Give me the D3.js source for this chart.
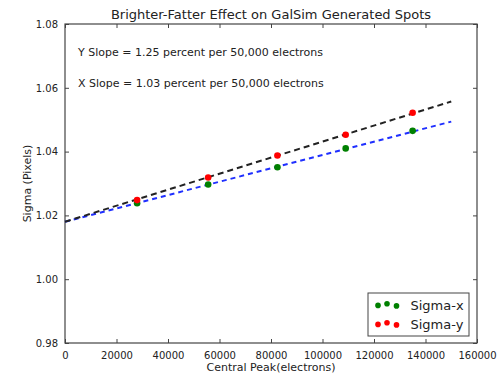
<!DOCTYPE html>
<html>
<head>
<meta charset="utf-8">
<script src="https://cdn.jsdelivr.net/npm/d3@7"></script>
<style>
    body { margin: 0; background: #fff; }
    text { font-family: "DejaVu Sans", sans-serif; fill: #222; }
</style>
</head>
<body>
<div id="chart"></div>
<script>
var peakX = [28000, 55600, 82500, 109000, 135000];
var sigmaX = [1.0238, 1.0297, 1.0351, 1.0410, 1.0465];
var sigmaY = [1.0248, 1.0319, 1.0388, 1.0453, 1.0522];

var fitPeak = [0, 150000];
var fitSigmaX = [1.0180, 1.0494];
var fitSigmaY = [1.0180, 1.0557];

var xTicks = [0, 20000, 40000, 60000, 80000, 100000, 120000, 140000, 160000];
var yTicks = [0.98, 1.00, 1.02, 1.04, 1.06, 1.08];

var slopeLabels = ["Y Slope = 1.25 percent per 50,000 electrons",
    "X Slope = 1.03 percent per 50,000 electrons"];
var seriesNames = ["Sigma-x", "Sigma-y"];
var seriesColors = ["#008000", "#ff0000"];

var margin = { top: 24, right: 22, bottom: 33, left: 65 },
    width = 499 - margin.left - margin.right,
    height = 376 - margin.top - margin.bottom;

var svg = d3.select("#chart")
    .append("svg")
    .attr("width", 499)
    .attr("height", 376)
    .append("g")
    .attr("transform",
        "translate(" + margin.left + "," + margin.top + ")");

var x = d3.scaleLinear()
    .domain([0, 160000])
    .range([0, width]);

var y = d3.scaleLinear()
    .domain([0.98, 1.08])
    .range([height, 0]);

// matplotlib classic: ticks point inward on all four sides
var tickLen = 4;
function styleAxis(g) {
    g.select(".domain").remove();
    g.selectAll(".tick line").attr("stroke", "#444");
    g.selectAll(".tick text").style("font-size", "10px").attr("fill", "#222");
}

svg.append("g")
    .attr("transform", "translate(0," + height + ")")
    .call(d3.axisBottom(x).tickValues(xTicks).tickFormat(d3.format("d"))
        .tickSizeInner(-tickLen).tickPadding(tickLen + 5))
    .call(styleAxis);

svg.append("g")
    .call(d3.axisTop(x).tickValues(xTicks).tickFormat("")
        .tickSizeInner(-tickLen))
    .call(styleAxis);

svg.append("g")
    .call(d3.axisLeft(y).tickValues(yTicks).tickFormat(d3.format(".2f"))
        .tickSizeInner(-tickLen).tickPadding(tickLen + 3))
    .call(styleAxis);

svg.append("g")
    .attr("transform", "translate(" + width + ",0)")
    .call(d3.axisRight(y).tickValues(yTicks).tickFormat("")
        .tickSizeInner(-tickLen))
    .call(styleAxis);

svg.append("rect")
    .attr("width", width)
    .attr("height", height)
    .attr("fill", "none")
    .attr("stroke", "#444")
    .attr("stroke-width", 1.2);

// fit lines
var fitLine = d3.line()
    .x(d => x(d[0]))
    .y(d => y(d[1]));

svg.append("path")
    .datum(d3.zip(fitPeak, fitSigmaX))
    .attr("fill", "none")
    .attr("stroke", "#1f2fff")
    .attr("stroke-width", 2)
    .attr("stroke-dasharray", "5,4")
    .attr("d", fitLine);

svg.append("path")
    .datum(d3.zip(fitPeak, fitSigmaY))
    .attr("fill", "none")
    .attr("stroke", "#222")
    .attr("stroke-width", 2)
    .attr("stroke-dasharray", "6,4")
    .attr("d", fitLine);

// measured points
[sigmaX, sigmaY].forEach(function (series, i) {
    svg.append("g")
        .selectAll("circle")
        .data(d3.zip(peakX, series))
        .enter()
        .append("circle")
        .attr("cx", d => x(d[0]))
        .attr("cy", d => y(d[1]))
        .attr("r", 3.3)
        .attr("fill", seriesColors[i]);
});

// slope annotations
slopeLabels.forEach(function (label, i) {
    svg.append("text")
        .attr("x", 13)
        .attr("y", 31.5 + i * 31)
        .style("font-size", "11px")
        .text(label);
});

// legend
var legend = svg.append("g")
    .attr("transform", "translate(" + (width - 109) + "," + (height - 50) + ")");

legend.append("rect")
    .attr("width", 101)
    .attr("height", 43)
    .attr("fill", "#fff")
    .attr("stroke", "#444")
    .attr("stroke-width", 1);

var markerOffsets = [[10, 0.4], [19, -1.2], [28.5, 0.9]];
seriesNames.forEach(function (name, i) {
    var row = legend.append("g")
        .attr("transform", "translate(0," + (12 + i * 19) + ")");
    markerOffsets.forEach(function (m) {
        row.append("circle")
            .attr("cx", m[0])
            .attr("cy", m[1])
            .attr("r", 2.8)
            .attr("fill", seriesColors[i]);
    });
    row.append("text")
        .attr("x", 42.5)
        .attr("dy", "0.35em")
        .style("font-size", "13px")
        .text(name);
});

// titles
svg.append("text")
    .attr("x", width / 2)
    .attr("y", -5)
    .attr("text-anchor", "middle")
    .style("font-size", "13px")
    .text("Brighter-Fatter Effect on GalSim Generated Spots");

svg.append("text")
    .attr("x", width / 2)
    .attr("y", height + 28)
    .attr("text-anchor", "middle")
    .style("font-size", "11px")
    .text("Central Peak(electrons)");

svg.append("text")
    .attr("transform", "rotate(-90)")
    .attr("x", -height / 2)
    .attr("y", -34)
    .attr("text-anchor", "middle")
    .style("font-size", "11px")
    .text("Sigma (Pixels)");
</script>
</body>
</html>
